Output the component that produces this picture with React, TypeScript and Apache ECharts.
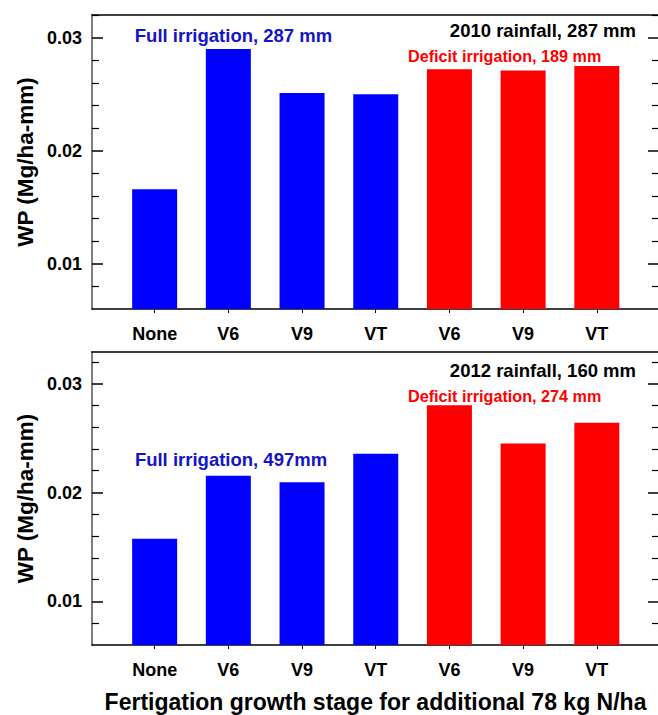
import React, { useEffect, useRef } from "react";
import * as echarts from "echarts";

const categories = ["None", "V6", "V9", "VT", "V6", "V9", "VT"];
const groups = ["full", "full", "full", "full", "deficit", "deficit", "deficit"];
const wp2010 = [0.0166, 0.029, 0.0251, 0.025, 0.0272, 0.0271, 0.0275];
const wp2012 = [0.01575, 0.02153, 0.02095, 0.02355, 0.028, 0.0245, 0.0264];
const majorTicks = [0.01, 0.02, 0.03];
const minorTicks = [0.008, 0.012, 0.014, 0.016, 0.018, 0.022, 0.024, 0.026, 0.028, 0.032];
const xPositions = [1, 2, 3, 4, 5, 6, 7];

const FONT = "'Liberation Sans', Arial, Helvetica, sans-serif";
const BLUE_TEXT = "#1414c8";

export default function App() {
  const ref = useRef<HTMLDivElement>(null);

  useEffect(() => {
    if (!ref.current) return;
    const chart = echarts.init(ref.current, null, { renderer: "svg" });

    const xMin = 0.15;
    const xMax = 7.83;
    const yMin = 0.006;
    const panels = [
      { top: 15, height: 294, max: 0.032, data: wp2010 },
      { top: 352, height: 293, max: 0.0329, data: wp2012 },
    ];

    const grids: any[] = [];
    const xAxes: any[] = [];
    const yAxes: any[] = [];
    const series: any[] = [];

    panels.forEach((p, pi) => {
      const gMain = grids.length;
      grids.push({ left: 92, right: 0, top: p.top, height: p.height });
      const gMinor = grids.length;
      grids.push({ left: 92, right: 0, top: p.top, height: p.height });

      const xBottom = xAxes.length;
      xAxes.push({
        gridIndex: gMain,
        type: "value",
        min: xMin,
        max: xMax,
        position: "bottom",
        axisLine: { show: true, lineStyle: { color: "#000", width: 1.5 } },
        axisTick: {
          show: true,
          customValues: xPositions,
          length: 4,
          inside: false,
          lineStyle: { color: "#000", width: 1 },
        },
        axisLabel: {
          show: true,
          customValues: xPositions,
          formatter: (v: number) => categories[Math.round(v) - 1] ?? "",
          fontSize: 18,
          fontWeight: "bold",
          fontFamily: FONT,
          color: "#000",
          margin: 16,
        },
        splitLine: { show: false },
      });
      xAxes.push({
        gridIndex: gMain,
        type: "value",
        min: xMin,
        max: xMax,
        position: "top",
        axisLine: { show: true, lineStyle: { color: "#000", width: 1.5 } },
        axisTick: { show: false },
        axisLabel: { show: false },
        splitLine: { show: false },
      });
      xAxes.push({
        gridIndex: gMinor,
        type: "value",
        min: xMin,
        max: xMax,
        show: false,
      });

      const yLeft = yAxes.length;
      yAxes.push({
        gridIndex: gMain,
        type: "value",
        min: yMin,
        max: p.max,
        position: "left",
        axisLine: { show: true, lineStyle: { color: "#7f7f7f", width: 2 } },
        axisTick: {
          show: true,
          inside: true,
          length: 11,
          customValues: majorTicks,
          lineStyle: { color: "#000", width: 1.5 },
        },
        axisLabel: {
          show: true,
          customValues: majorTicks,
          formatter: (v: number) => v.toFixed(2),
          fontSize: 18,
          fontWeight: "bold",
          fontFamily: FONT,
          color: "#000",
          margin: 10,
        },
        splitLine: { show: false },
      });
      yAxes.push({
        gridIndex: gMain,
        type: "value",
        min: yMin,
        max: p.max,
        position: "right",
        axisLine: { show: false },
        axisTick: {
          show: true,
          inside: true,
          length: 10,
          customValues: majorTicks,
          lineStyle: { color: "#000", width: 1.5 },
        },
        axisLabel: { show: false },
        splitLine: { show: false },
      });
      yAxes.push({
        gridIndex: gMinor,
        type: "value",
        min: yMin,
        max: p.max,
        position: "left",
        axisLine: { show: false },
        axisTick: {
          show: true,
          inside: true,
          length: 7,
          customValues: minorTicks,
          lineStyle: { color: "#000", width: 1.2 },
        },
        axisLabel: { show: false },
        splitLine: { show: false },
      });
      yAxes.push({
        gridIndex: gMinor,
        type: "value",
        min: yMin,
        max: p.max,
        position: "right",
        axisLine: { show: false },
        axisTick: {
          show: true,
          inside: true,
          length: 6,
          customValues: minorTicks,
          lineStyle: { color: "#000", width: 1.2 },
        },
        axisLabel: { show: false },
        splitLine: { show: false },
      });

      series.push({
        type: "bar",
        name: pi === 0 ? "2010" : "2012",
        xAxisIndex: xBottom,
        yAxisIndex: yLeft,
        barWidth: 45,
        data: p.data.map((v, i) => ({
          value: [xPositions[i], v],
          itemStyle: { color: groups[i] === "full" ? "#0000ff" : "#ff0000" },
        })),
      });
    });

    const txt = (
      text: string,
      x: number,
      y: number,
      size: number,
      color: string,
      align: string = "center",
      rotation = 0
    ) => ({
      type: "text",
      x,
      y,
      rotation,
      style: {
        text,
        fill: color,
        fontSize: size,
        fontWeight: "bold",
        fontFamily: FONT,
        align,
        verticalAlign: "middle",
      },
    });

    const graphic = [
      txt("Full irrigation, 287 mm", 233.5, 35, 18.5, BLUE_TEXT),
      txt("2010 rainfall, 287 mm", 636, 30, 18.5, "#000", "right"),
      txt("Deficit irrigation, 189 mm", 504.7, 56, 16.2, "#ff0000"),
      txt("2012 rainfall, 160 mm", 636, 370.5, 18.5, "#000", "right"),
      txt("Deficit irrigation, 274 mm", 504.7, 396, 16.2, "#ff0000"),
      txt("Full irrigation, 497mm", 231, 459, 18.5, BLUE_TEXT),
      txt("WP (Mg/ha-mm)", 25, 162, 22.5, "#000", "center", Math.PI / 2),
      txt("WP (Mg/ha-mm)", 25, 498.5, 22.5, "#000", "center", Math.PI / 2),
      txt("Fertigation growth stage for additional 78 kg N/ha", 375.5, 701.5, 23, "#000"),
    ];

    chart.setOption({
      animation: false,
      backgroundColor: "#fff",
      grid: grids,
      xAxis: xAxes,
      yAxis: yAxes,
      series,
      graphic,
    });

    return () => chart.dispose();
  }, []);

  return (
    <div
      ref={ref}
      style={{ position: "fixed", left: 0, top: 0, width: 658, height: 715 }}
    />
  );
}
